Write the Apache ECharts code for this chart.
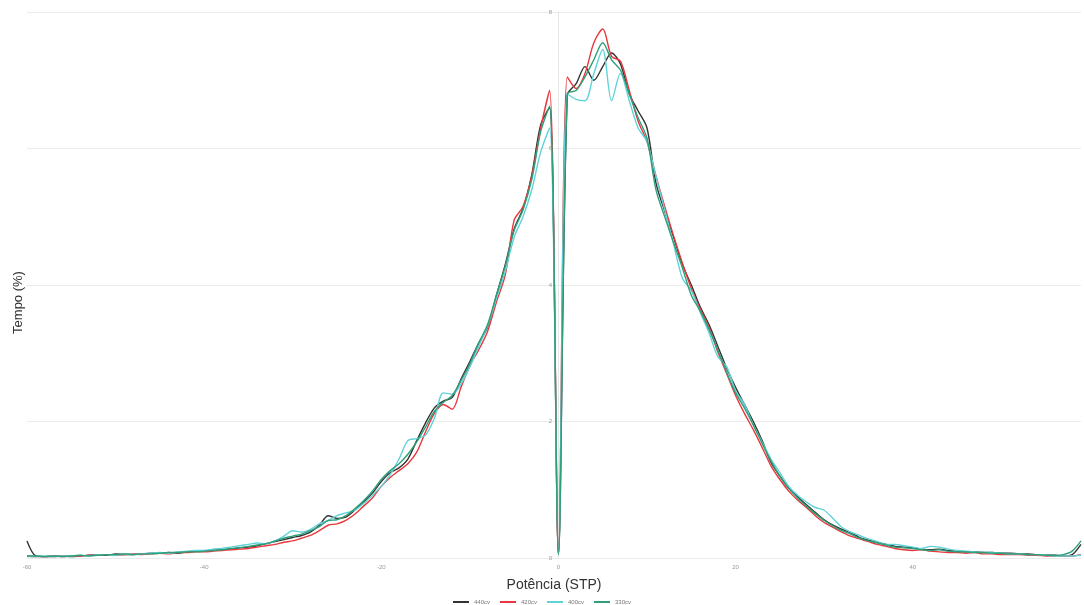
<!DOCTYPE html>
<html>
<head>
<meta charset="utf-8">
<script src="https://cdn.jsdelivr.net/npm/echarts@6/dist/echarts.min.js"></script>
<style>
  html, body { margin: 0; padding: 0; background: #fff; }
  #main { width: 1084px; height: 605px; }
</style>
</head>
<body>
<div id="main"></div>
<script>
// eixo x: potência (STP), de -60 a 59
const potencia = [
  -60,-59,-58,-57,-56,-55,-54,-53,-52,-51,-50,-49,-48,-47,-46,-45,-44,-43,-42,-41,
  -40,-39,-38,-37,-36,-35,-34,-33,-32,-31,-30,-29,-28,-27,-26,-25,-24,-23,-22,-21,
  -20,-19,-18,-17,-16,-15,-14,-13,-12,-11,-10,-9,-8,-7,-6,-5,-4,-3,-2,-1,
  0,1,2,3,4,5,6,7,8,9,10,11,12,13,14,15,16,17,18,19,
  20,21,22,23,24,25,26,27,28,29,30,31,32,33,34,35,36,37,38,39,
  40,41,42,43,44,45,46,47,48,49,50,51,52,53,54,55,56,57,58,59
];

// tempo (%) por série
const tempo440 = [
  0.25,0.03,0.02,0.02,0.03,0.02,0.03,0.04,0.05,0.04,0.06,0.05,0.05,0.06,0.07,0.07,0.08,0.07,0.09,0.10,
  0.10,0.11,0.12,0.13,0.15,0.16,0.18,0.21,0.24,0.27,0.30,0.33,0.38,0.48,0.62,0.58,0.60,0.70,0.82,0.95,
  1.12,1.25,1.32,1.45,1.72,1.98,2.20,2.30,2.35,2.62,2.88,3.15,3.38,3.85,4.30,4.82,5.12,5.62,6.35,6.60,
  0.05,6.78,6.95,7.20,7.00,7.20,7.40,7.24,6.80,6.55,6.30,5.50,5.08,4.70,4.30,4.00,3.68,3.42,3.10,2.78,
  2.50,2.25,2.00,1.72,1.40,1.20,1.02,0.90,0.78,0.67,0.56,0.48,0.42,0.37,0.30,0.26,0.23,0.20,0.17,0.16,
  0.15,0.13,0.12,0.13,0.11,0.10,0.09,0.09,0.08,0.08,0.07,0.07,0.06,0.06,0.05,0.04,0.04,0.03,0.05,0.20
];
const tempo420 = [
  0.03,0.02,0.02,0.03,0.02,0.03,0.03,0.04,0.04,0.05,0.04,0.05,0.06,0.05,0.06,0.07,0.06,0.08,0.08,0.09,
  0.09,0.10,0.11,0.12,0.13,0.14,0.16,0.18,0.20,0.23,0.25,0.29,0.33,0.40,0.48,0.50,0.55,0.64,0.76,0.88,
  1.05,1.18,1.28,1.38,1.55,1.85,2.12,2.25,2.18,2.50,2.82,3.05,3.32,3.75,4.15,4.95,5.15,5.60,6.30,6.85,
  0.05,7.05,6.88,7.10,7.55,7.75,7.35,7.28,6.85,6.40,6.10,5.60,5.15,4.72,4.32,3.95,3.65,3.38,3.02,2.70,
  2.38,2.12,1.88,1.62,1.35,1.15,0.98,0.85,0.74,0.62,0.52,0.45,0.38,0.32,0.28,0.24,0.20,0.17,0.14,0.12,
  0.11,0.12,0.10,0.09,0.08,0.08,0.07,0.08,0.06,0.06,0.05,0.05,0.05,0.04,0.04,0.03,0.03,0.03,0.03,0.05
];
const tempo400 = [
  0.02,0.02,0.03,0.02,0.03,0.03,0.04,0.03,0.05,0.05,0.04,0.06,0.05,0.06,0.07,0.08,0.07,0.09,0.10,0.11,
  0.11,0.13,0.14,0.16,0.18,0.20,0.22,0.21,0.25,0.32,0.40,0.38,0.42,0.50,0.55,0.62,0.66,0.70,0.80,0.92,
  1.05,1.22,1.45,1.72,1.75,1.80,2.05,2.42,2.40,2.55,2.80,3.10,3.40,3.80,4.20,4.70,5.00,5.40,5.95,6.30,
  0.05,6.80,6.72,6.70,7.10,7.45,6.70,7.10,6.70,6.30,6.10,5.60,5.10,4.60,4.10,3.92,3.60,3.30,2.95,2.80,
  2.45,2.25,1.95,1.70,1.45,1.25,1.05,0.92,0.82,0.74,0.70,0.58,0.45,0.38,0.33,0.28,0.24,0.20,0.20,0.18,
  0.16,0.14,0.17,0.16,0.13,0.11,0.10,0.09,0.08,0.08,0.07,0.06,0.06,0.05,0.05,0.04,0.03,0.03,0.03,0.04
];
const tempo330 = [
  0.03,0.03,0.02,0.03,0.02,0.03,0.04,0.03,0.04,0.05,0.05,0.06,0.05,0.06,0.06,0.07,0.08,0.08,0.09,0.09,
  0.10,0.11,0.12,0.14,0.15,0.17,0.19,0.21,0.25,0.29,0.32,0.35,0.40,0.46,0.55,0.56,0.62,0.72,0.84,0.98,
  1.15,1.28,1.38,1.52,1.70,1.92,2.15,2.28,2.38,2.60,2.85,3.15,3.42,3.85,4.28,4.80,5.10,5.55,6.25,6.62,
  0.05,6.80,6.85,7.05,7.30,7.55,7.30,7.15,6.80,6.45,6.15,5.40,5.00,4.62,4.25,3.85,3.62,3.35,3.05,2.72,
  2.42,2.20,1.95,1.68,1.42,1.20,1.02,0.88,0.76,0.65,0.55,0.47,0.40,0.35,0.29,0.25,0.22,0.19,0.16,0.15,
  0.14,0.12,0.11,0.12,0.10,0.09,0.09,0.08,0.08,0.07,0.07,0.06,0.06,0.05,0.05,0.04,0.04,0.05,0.10,0.25
];

const nomes = ['440cv', '420cv', '400cv', '330cv'];
const cores = ['#333333', '#e8383d', '#5fd2da', '#2f9f7a'];
const valores = [tempo440, tempo420, tempo400, tempo330];

const chart = echarts.init(document.getElementById('main'));

const series = nomes.map((nome, i) => ({
  name: nome,
  type: 'line',
  data: potencia.map((x, j) => [x, valores[i][j]]),
  showSymbol: false,
  smooth: 0.3,
  lineStyle: { color: cores[i], width: 1.4 },
  itemStyle: { color: cores[i] }
}));

chart.setOption({
  animation: false,
  grid: { left: 27, right: 3, top: 12, bottom: 47 },
  legend: {
    data: nomes,
    top: 594,
    left: 'center',
    icon: 'rect',
    itemWidth: 16,
    itemHeight: 2,
    itemGap: 10,
    textStyle: { fontSize: 6, color: '#777', fontFamily: 'Liberation Sans' }
  },
  xAxis: {
    type: 'value',
    min: -60,
    max: 59,
    interval: 20,
    name: 'Potência (STP)',
    nameLocation: 'middle',
    nameGap: 20,
    nameTextStyle: { fontSize: 14, color: '#333', fontFamily: 'Liberation Sans' },
    axisLine: { show: false },
    axisTick: { show: false },
    splitLine: { show: false },
    axisLabel: { fontSize: 6, color: '#999', margin: 6, showMaxLabel: false }
  },
  yAxis: {
    type: 'value',
    min: 0,
    max: 8,
    interval: 2,
    // eixo desenhado em x = 0
    offset: -531,
    axisLine: { show: true, onZero: false, lineStyle: { color: '#e6e6e6', width: 1 } },
    axisTick: { show: false },
    splitLine: { lineStyle: { color: '#ebebeb', width: 1 } },
    axisLabel: { fontSize: 6, color: '#999', margin: 6 }
  },
  graphic: [{
    type: 'text',
    left: 12,
    top: 'middle',
    rotation: Math.PI / 2,
    style: { text: 'Tempo (%)', fontSize: 13, fill: '#333', fontFamily: 'Liberation Sans' }
  }],
  series: series
});
</script>
</body>
</html>
